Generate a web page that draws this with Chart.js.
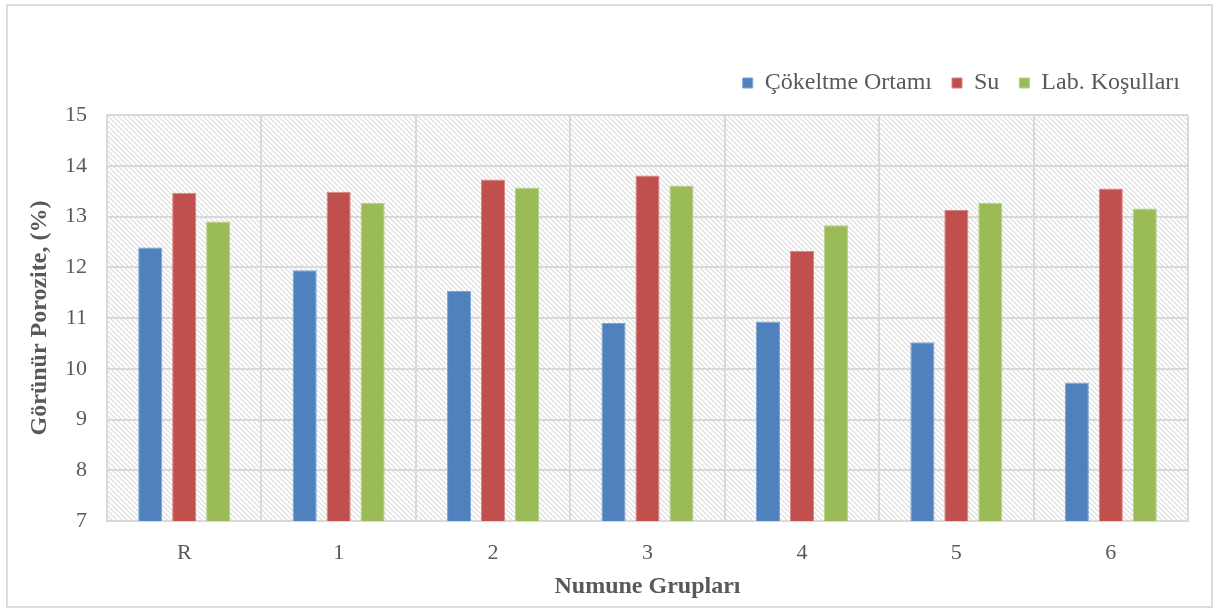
<!DOCTYPE html>
<html>
<head>
<meta charset="utf-8">
<script src="https://cdn.jsdelivr.net/npm/chart.js@4.4.1/dist/chart.umd.min.js"></script>
<style>
  body { margin: 0; background: #fff; }
  #kutu { position: absolute; left: 6px; top: 4px; width: 1203px; height: 600px; border: 2px solid #dcdcdc; }
  canvas { display: block; }
</style>
</head>
<body>
<div id="kutu"><canvas id="grafik"></canvas></div>
<script>
// kategori ve seri verileri
const gruplar = ['R', '1', '2', '3', '4', '5', '6'];
const cokeltme = [12.39, 11.94, 11.53, 10.90, 10.93, 10.52, 9.73];
const su = [13.47, 13.49, 13.73, 13.81, 12.32, 13.13, 13.55];
const labKosul = [12.90, 13.27, 13.57, 13.61, 12.83, 13.27, 13.16];
const seriAdlari = ['Çökeltme Ortamı', 'Su', 'Lab. Koşulları'];
const yEksenMin = 7;
const yEksenMax = 15;

const yazi = 'Liberation Serif, Times New Roman, serif';

// arka plan icin taralı desen
function taramaDeseni() {
    const c = document.createElement('canvas');
    c.width = 5; c.height = 5;
    const g = c.getContext('2d');
    g.fillStyle = '#ffffff';
    g.fillRect(0, 0, 5, 5);
    g.strokeStyle = '#dadada';
    g.lineWidth = 1.1;
    g.beginPath();
    g.moveTo(0, 0); g.lineTo(5, 5);
    g.moveTo(-3, 2); g.lineTo(3, 8);
    g.moveTo(2, -3); g.lineTo(8, 3);
    g.stroke();
    return c;
}

const arkaPlan = {
    id: 'arkaPlan',
    beforeDraw(chart) {
        const { ctx, chartArea } = chart;
        ctx.save();
        ctx.fillStyle = ctx.createPattern(taramaDeseni(), 'repeat');
        ctx.fillRect(chartArea.left, chartArea.top, chartArea.right - chartArea.left, chartArea.bottom - chartArea.top);
        ctx.restore();
    }
};

// lejantin altina bosluk ekle, biraz saga kaydir
const lejantAyar = {
    id: 'lejantAyar',
    beforeLayout(chart) {
        const lg = chart.legend;
        if (lg && !lg._ayarli) {
            const eskiFit = lg.fit.bind(lg);
            lg.fit = function () {
                eskiFit();
                this.height += 10;
            };
            const eskiCiz = lg.draw.bind(lg);
            lg.draw = function (alan) {
                this.ctx.save();
                this.ctx.translate(12, 0);
                eskiCiz(alan);
                this.ctx.restore();
            };
            lg._ayarli = true;
        }
    }
};

const grafik = document.getElementById('grafik');
grafik.width = 1203;
grafik.height = 600;

const data = {
    labels: gruplar,
    datasets: [{
        label: seriAdlari[0],
        data: cokeltme,
        backgroundColor: '#4f81bd',
        borderColor: '#7ea3d6',
        borderWidth: 1
    }, {
        label: seriAdlari[1],
        data: su,
        backgroundColor: '#c0504d',
        borderColor: '#d88583',
        borderWidth: 1
    }, {
        label: seriAdlari[2],
        data: labKosul,
        backgroundColor: '#9bbb59',
        borderColor: '#b7d08a',
        borderWidth: 1
    }]
};

const config = {
    type: 'bar',
    data: data,
    plugins: [arkaPlan, lejantAyar],
    options: {
        responsive: false,
        animation: false,
        categoryPercentage: 0.66,
        barPercentage: 0.71,
        layout: {
            padding: { top: 45, right: 23, left: 0, bottom: 0 }
        },
        plugins: {
            tooltip: { enabled: false },
            legend: {
                position: 'top',
                align: 'end',
                labels: {
                    boxWidth: 10,
                    boxHeight: 10,
                    padding: 20,
                    color: '#595959',
                    font: { family: yazi, size: 24 }
                }
            }
        },
        scales: {
            x: {
                afterFit: function (eksen) { eksen.height = 85; },
                grid: { color: '#d9d9d9', lineWidth: 2, drawTicks: false },
                border: { color: '#d9d9d9', width: 2 },
                ticks: { color: '#595959', padding: 19, font: { family: yazi, size: 22 } },
                title: {
                    display: true,
                    text: 'Numune Grupları',
                    color: '#595959',
                    padding: { top: 0, bottom: 5 },
                    font: { family: yazi, size: 24, weight: 'bold' }
                }
            },
            y: {
                min: yEksenMin,
                max: yEksenMax,
                afterFit: function (eksen) { eksen.width = 99; },
                grid: { color: '#d9d9d9', lineWidth: 2, drawTicks: false },
                border: { color: '#d9d9d9', width: 2 },
                ticks: { stepSize: 1, color: '#595959', padding: 20, font: { family: yazi, size: 22 } },
                title: {
                    display: true,
                    text: 'Görünür Porozite, (%)',
                    color: '#595959',
                    padding: { top: 17, bottom: 0 },
                    font: { family: yazi, size: 24, weight: 'bold' }
                }
            }
        }
    }
};

new Chart(grafik, config);
</script>
</body>
</html>
